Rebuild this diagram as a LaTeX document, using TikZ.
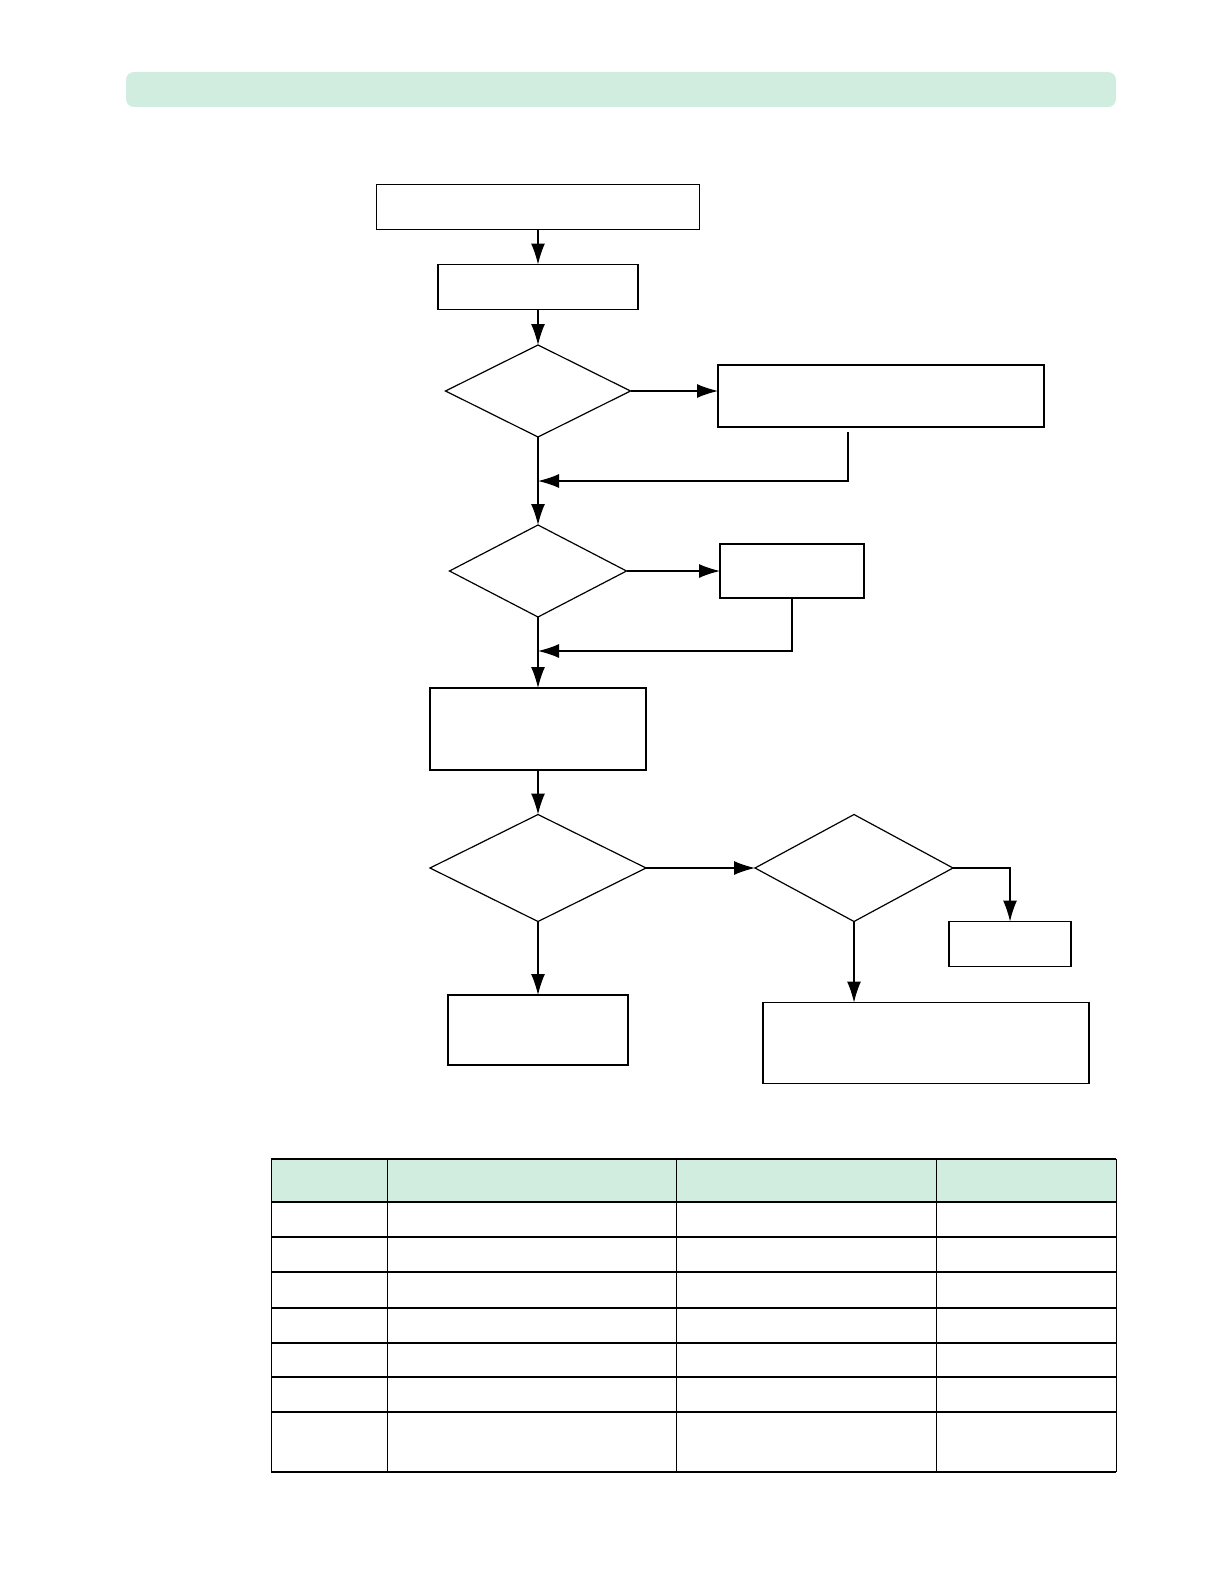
\documentclass[tikz,border=0pt]{standalone}
\usepackage{xcolor}
\usepackage{tikz}
\usetikzlibrary{shapes.geometric, arrows.meta, positioning, calc}
\definecolor{mint}{RGB}{208,237,224}

\begin{document}
\begin{tikzpicture}[x=0.5pt, y=-0.5pt,
  box/.style={draw, line width=0.6pt, inner sep=0pt, outer sep=0pt},
  dec/.style={diamond, draw, line width=0.6pt, inner sep=0pt, outer sep=0pt},
  arr/.style={line width=0.6pt, -{Latex[length=10.5pt, width=7pt]}}]
\useasboundingbox (0,0) rectangle (1224,1584);

% Banner
\fill[mint, rounded corners=4pt] (126,72) rectangle (1116,107);

% Main column
\node[box, minimum width=161.5pt, minimum height=22.5pt] (start) at (538,207) {};
\node[box, minimum width=100pt, minimum height=22.5pt] (read) at (538,287) {};
\node[dec, minimum width=92.5pt, minimum height=46pt] (chk1) at (538,391) {};
\node[dec, minimum width=88.5pt, minimum height=46pt] (chk2) at (538,571) {};
\node[box, minimum width=108pt, minimum height=41pt] (proc) at (538,729) {};
\node[dec, minimum width=108pt, minimum height=53.5pt] (chk3) at (538,868) {};
\node[box, minimum width=90pt, minimum height=35pt] (endA) at (538,1030) {};

% Side branches
\node[box, minimum width=163pt, minimum height=31pt] (fix1) at (881,396) {};
\node[box, minimum width=72pt, minimum height=27pt] (fix2) at (792,571) {};
\node[dec, minimum width=99pt, minimum height=53.5pt] (chk4) at (854,868) {};
\node[box, minimum width=61pt, minimum height=22.5pt] (endC) at (1010,944) {};
\node[box, minimum width=163pt, minimum height=40.5pt] (endB) at (926,1043) {};

\coordinate (j1) at (538,481);
\coordinate (j2) at (538,651);

% Connectors
\draw[arr] (start) -- (read);
\draw[arr] (read) -- (chk1);
\draw[arr] (chk1.east) -- (chk1.east -| fix1.west);
\draw[arr] ([xshift=-16.5pt, yshift=-2.5pt]fix1.south) |- (j1);
\draw[arr] (chk1) -- (chk2);
\draw[arr] (chk2) -- (fix2);
\draw[arr] (fix2.south) |- (j2);
\draw[arr] (chk2) -- (proc);
\draw[arr] (proc) -- (chk3);
\draw[arr] (chk3) -- (chk4);
\draw[arr] (chk4.east) -| (endC.north);
\draw[arr] (chk3) -- (endA);
\draw[arr] (chk4.south) -- (chk4.south |- endB.north);

% Table
\fill[mint] (271,1159) rectangle (1116,1202);
\foreach \y in {1159,1202,1237,1272,1308,1343,1377,1412,1472} {
    \draw[line width=0.8pt] (271,\y) -- (1116,\y);
}
\foreach \x in {271,387,676,936,1116} {
    \draw[line width=0.5pt] (\x,1159) -- (\x,1472);
}
\end{tikzpicture}
\end{document}
